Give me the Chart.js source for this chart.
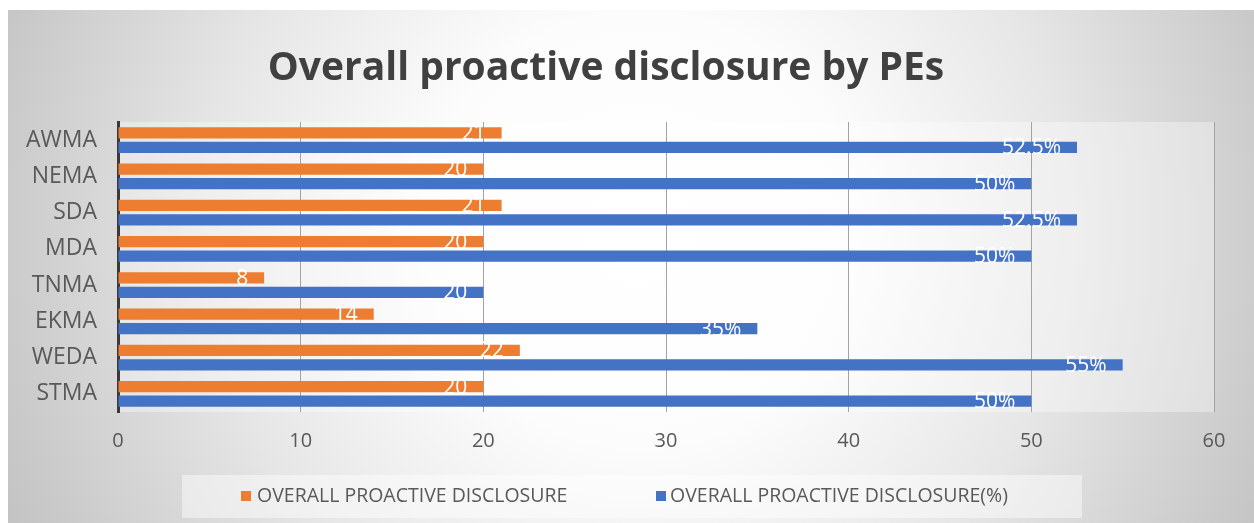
<!DOCTYPE html>
<html>
<head>
<meta charset="utf-8">
<title>Overall proactive disclosure by PEs</title>
<script src="https://cdn.jsdelivr.net/npm/chart.js@4.4.1/dist/chart.umd.min.js"></script>
<style>
  html, body { margin: 0; padding: 0; background: #ffffff; }
  #wrap { width: 1254px; height: 523px; }
</style>
</head>
<body>
<div id="wrap"><canvas id="chart" width="1254" height="523"></canvas></div>
<script>
// Procuring entities, listed top to bottom
const categories = ['AWMA', 'NEMA', 'SDA', 'MDA', 'TNMA', 'EKMA', 'WEDA', 'STMA'];

// Number of items proactively disclosed
const disclosureCounts = [21, 20, 21, 20, 8, 14, 22, 20];

// Same disclosure expressed as a share (%)
const disclosurePercent = [52.5, 50, 52.5, 50, 20, 35, 55, 50];
const percentSuffix = ['%', '%', '%', '%', '', '%', '%', '%'];

const seriesNames = ['OVERALL PROACTIVE DISCLOSURE', 'OVERALL PROACTIVE DISCLOSURE(%)'];
const seriesColors = ['#ED7D31', '#4472C4'];
const chartTitle = 'Overall proactive disclosure by PEs';

const FONT = "'Open Sans', sans-serif";
const TEXT_GREY = '#595959';

// Soft radial backdrop behind the whole chart, plus a light plot-area wash
const backdrop = {
  id: 'backdrop',
  beforeDraw(chart) {
    const ctx = chart.ctx;
    const W = chart.width, H = chart.height;
    ctx.save();
    ctx.fillStyle = '#ffffff';
    ctx.fillRect(0, 0, W, H);
    const g = ctx.createRadialGradient(640, 230, 0, 640, 230, 720);
    g.addColorStop(0, '#ffffff');
    g.addColorStop(0.3, '#fcfcfc');
    g.addColorStop(0.6, '#e6e6e6');
    g.addColorStop(0.9, '#c9c9c9');
    g.addColorStop(1, '#c0c0c0');
    ctx.fillStyle = g;
    ctx.fillRect(8, 10, W - 8, H - 10);
    const a = chart.chartArea;
    ctx.fillStyle = 'rgba(255,255,255,0.35)';
    ctx.fillRect(a.left, a.top, a.right - a.left, a.bottom - a.top);
    ctx.restore();
  }
};

// White value labels placed just inside the end of each bar
const valueLabels = {
  id: 'valueLabels',
  afterDatasetsDraw(chart) {
    const ctx = chart.ctx;
    ctx.save();
    ctx.font = '21px ' + FONT;
    ctx.fillStyle = '#ffffff';
    ctx.textAlign = 'right';
    ctx.textBaseline = 'middle';
    chart.data.datasets.forEach((ds, i) => {
      const meta = chart.getDatasetMeta(i);
      meta.data.forEach((bar, j) => {
        const suffix = ds.suffixes ? ds.suffixes[j] : '';
        ctx.fillText(String(ds.data[j]) + suffix, bar.x - 16, bar.y + 1);
      });
    });
    ctx.restore();
  }
};

// Title and the boxed legend along the bottom
const decorations = {
  id: 'decorations',
  afterDraw(chart) {
    const ctx = chart.ctx;
    ctx.save();
    ctx.font = 'bold 39px ' + FONT;
    ctx.fillStyle = '#404040';
    ctx.textAlign = 'center';
    ctx.textBaseline = 'alphabetic';
    ctx.fillText(chartTitle, 606, 80);

    ctx.fillStyle = 'rgba(255,255,255,0.45)';
    ctx.fillRect(182, 475, 900, 43);

    const items = [
      { box: 241, text: 257 },
      { box: 656, text: 670 }
    ];
    ctx.font = '19.5px ' + FONT;
    ctx.textAlign = 'left';
    ctx.textBaseline = 'middle';
    chart.data.datasets.forEach((ds, i) => {
      const it = items[i];
      ctx.fillStyle = ds.backgroundColor;
      ctx.fillRect(it.box, 491, 10, 10);
      ctx.fillStyle = TEXT_GREY;
      ctx.fillText(ds.label, it.text, 496);
    });
    ctx.restore();
  }
};

new Chart(document.getElementById('chart'), {
  type: 'bar',
  data: {
    labels: categories,
    datasets: [
      {
        label: seriesNames[0],
        data: disclosureCounts,
        backgroundColor: seriesColors[0],
        categoryPercentage: 0.8,
        barPercentage: 0.76
      },
      {
        label: seriesNames[1],
        data: disclosurePercent,
        suffixes: percentSuffix,
        backgroundColor: seriesColors[1],
        categoryPercentage: 0.8,
        barPercentage: 0.76
      }
    ]
  },
  options: {
    indexAxis: 'y',
    responsive: false,
    devicePixelRatio: 1,
    animation: false,
    layout: { padding: { top: 122, right: 40, bottom: 0, left: 0 } },
    plugins: {
      legend: { display: false },
      title: { display: false },
      tooltip: { enabled: false }
    },
    scales: {
      x: {
        min: 0,
        max: 60,
        ticks: {
          stepSize: 10,
          padding: 17,
          color: TEXT_GREY,
          font: { family: FONT, size: 20 }
        },
        grid: { color: '#a3a3a3', lineWidth: 1, drawTicks: false },
        border: { display: false },
        afterFit(scale) { scale.height = 111; }
      },
      y: {
        ticks: {
          padding: 21,
          color: TEXT_GREY,
          font: { family: FONT, size: 23 }
        },
        grid: { display: false, drawTicks: false },
        border: { display: true, color: '#3a3a3a', width: 3 },
        afterFit(scale) { scale.width = 118; }
      }
    }
  },
  plugins: [backdrop, valueLabels, decorations]
});
</script>
</body>
</html>
